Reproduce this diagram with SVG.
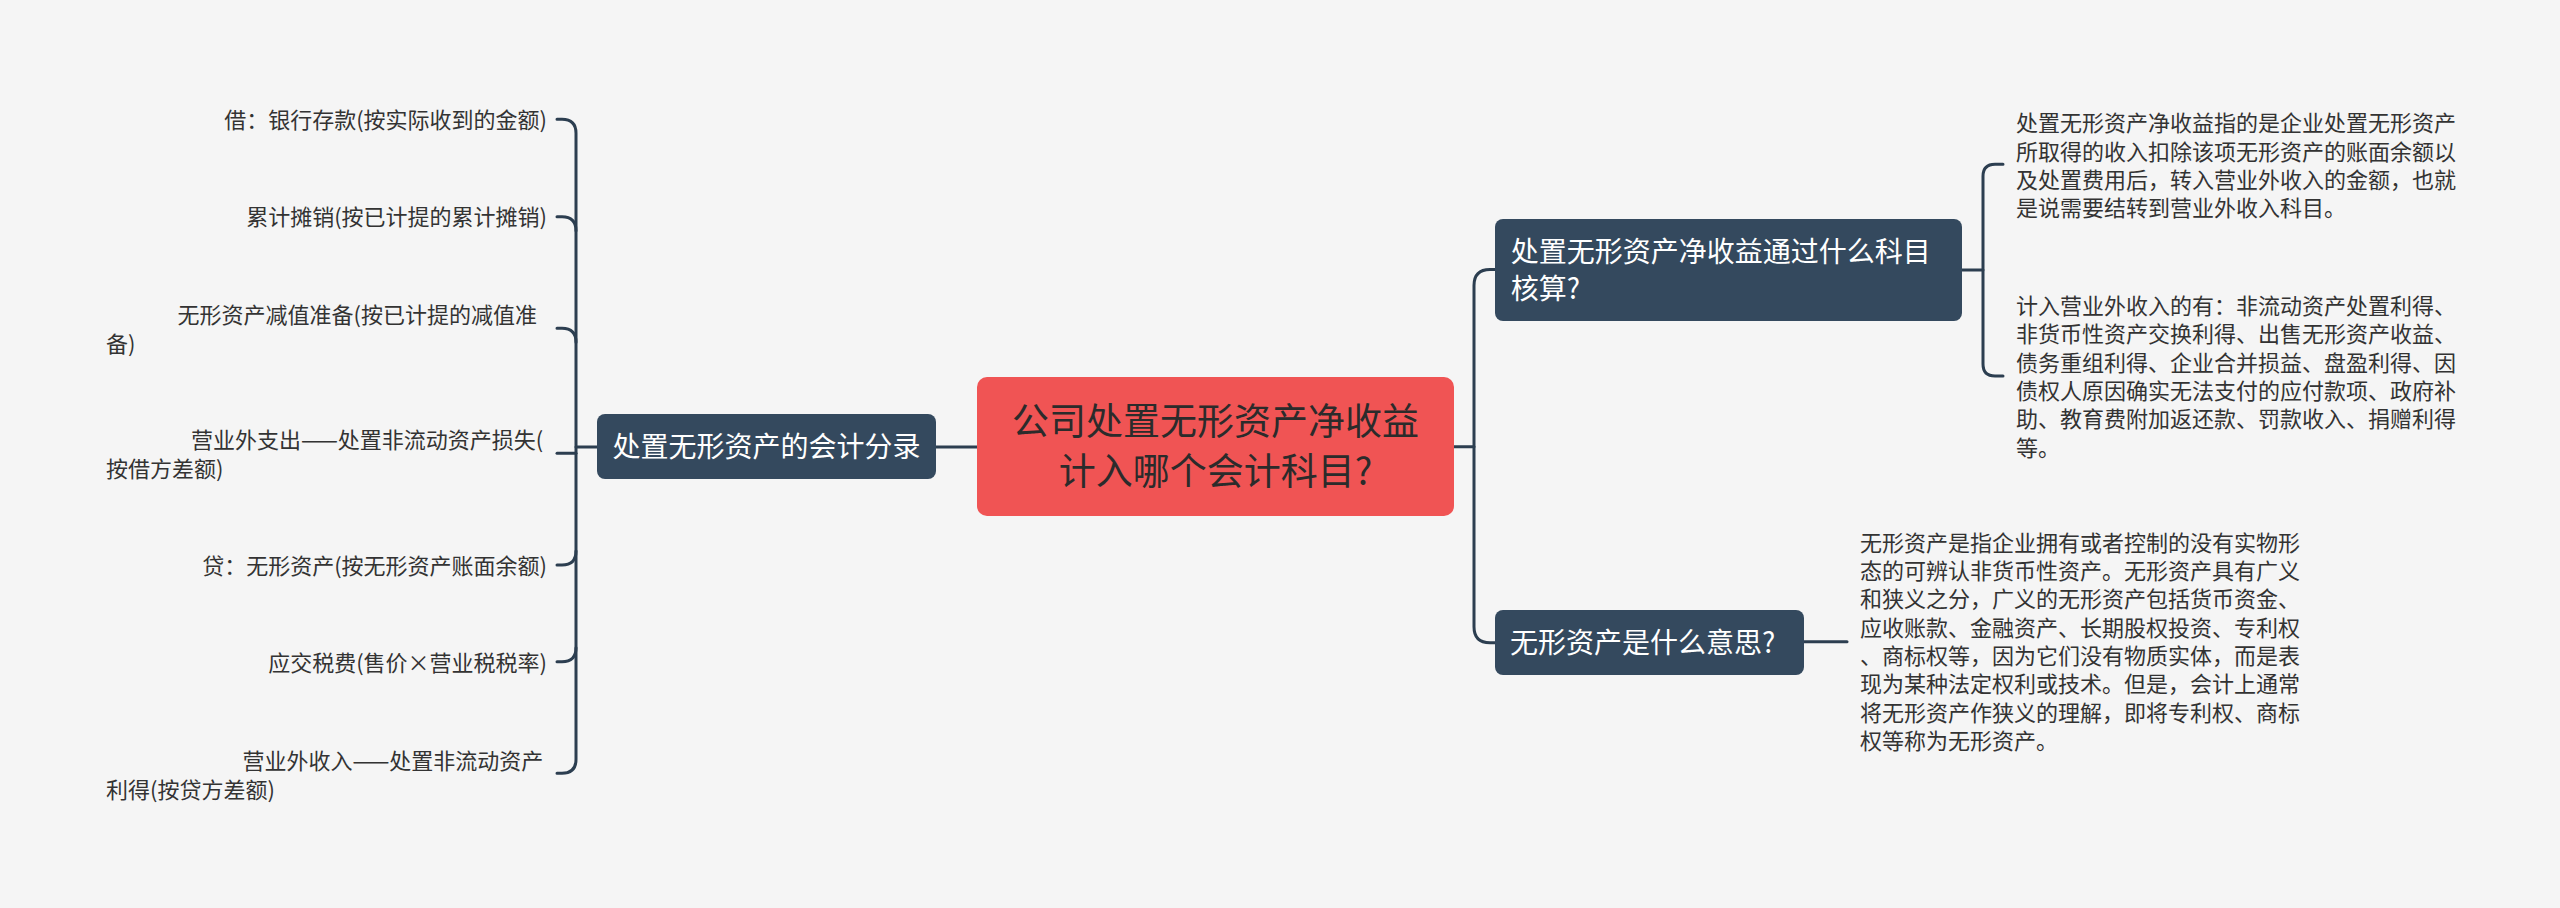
<svg xmlns="http://www.w3.org/2000/svg" width="2560" height="908" viewBox="0 0 2560 908">
<style>
.t{font-family:"Noto Sans CJK SC","Noto Sans",sans-serif;}
.leaf{font-size:22px;fill:#333333;}
.end{text-anchor:end;}
.node{fill:#34495E;}
.nt{font-size:28px;fill:#FFFFFF;}
.ln{fill:none;stroke:#2C3E50;stroke-width:3;stroke-linecap:round;}
</style>
<rect x="0" y="0" width="2560" height="908" fill="#F5F5F5"/>
<g id="connectors">
<path class="ln" d="M936 447 H977"/>
<path class="ln" d="M576 447 H597"/>
<path class="ln" d="M557 119.3 H562 Q576 119.3 576 133.3 V759.3 Q576 773.3 562 773.3 H557"/>
<path class="ln" d="M557 216.7 H562 Q576 216.7 576 230.7"/>
<path class="ln" d="M557 328.3 H562 Q576 328.3 576 342.3"/>
<path class="ln" d="M557 453.3 H576"/>
<path class="ln" d="M557 565 H562 Q576 565 576 551"/>
<path class="ln" d="M557 661.7 H562 Q576 661.7 576 647.7"/>
<path class="ln" d="M1454 446.7 H1474"/>
<path class="ln" d="M1495 269.5 H1490 Q1474 269.5 1474 285.5 V626.7 Q1474 642.7 1490 642.7 H1495"/>
<path class="ln" d="M1962 270 H1983"/>
<path class="ln" d="M2003 164.3 H1995 Q1983 164.3 1983 176.3 V364 Q1983 376 1995 376 H2003"/>
<path class="ln" d="M1804 641.7 H1847"/>
</g>
<g id="center">
<rect x="977" y="377" width="477" height="139" rx="10" fill="#F05454"/>
<text class="t" x="1215.5" y="434.5" font-size="37" fill="#2B2B2B" text-anchor="middle">公司处置无形资产净收益</text>
<text class="t" x="1215.5" y="484.5" font-size="37" fill="#2B2B2B" text-anchor="middle">计入哪个会计科目?</text>
</g>
<g id="left-node">
<rect class="node" x="597" y="414" width="339" height="65" rx="8"/>
<text class="t nt" x="766.5" y="456.5" text-anchor="middle">处置无形资产的会计分录</text>
</g>
<g id="leaf1"><text class="t leaf end" x="547" y="128">借：银行存款(按实际收到的金额)</text></g>
<g id="leaf2"><text class="t leaf end" x="547" y="224.7">累计摊销(按已计提的累计摊销)</text></g>
<g id="leaf3">
<text class="t leaf end" x="537" y="323">无形资产减值准备(按已计提的减值准</text>
<text class="t leaf" x="106" y="352">备)</text>
</g>
<g id="leaf4">
<text class="t leaf end" x="543.3" y="448">营业外支出——处置非流动资产损失(</text>
<text class="t leaf" x="106" y="477">按借方差额)</text>
</g>
<g id="leaf5"><text class="t leaf end" x="547" y="574">贷：无形资产(按无形资产账面余额)</text></g>
<g id="leaf6"><text class="t leaf end" x="547" y="671">应交税费(售价×营业税税率)</text></g>
<g id="leaf7">
<text class="t leaf end" x="543.3" y="769">营业外收入——处置非流动资产</text>
<text class="t leaf" x="106" y="797.5">利得(按贷方差额)</text>
</g>
<g id="right-node1">
<rect class="node" x="1495" y="219" width="467" height="102" rx="8"/>
<text class="t nt" x="1510.7" y="261.5">处置无形资产净收益通过什么科目</text>
<text class="t nt" x="1510.7" y="298.5">核算?</text>
</g>
<g id="text1" class="t leaf">
<text x="2016" y="131.3">处置无形资产净收益指的是企业处置无形资产</text>
<text x="2016" y="159.7">所取得的收入扣除该项无形资产的账面余额以</text>
<text x="2016" y="188">及处置费用后，转入营业外收入的金额，也就</text>
<text x="2016" y="216.3">是说需要结转到营业外收入科目。</text>
</g>
<g id="text2" class="t leaf">
<text x="2016" y="314">计入营业外收入的有：非流动资产处置利得、</text>
<text x="2016" y="342.3">非货币性资产交换利得、出售无形资产收益、</text>
<text x="2016" y="370.7">债务重组利得、企业合并损益、盘盈利得、因</text>
<text x="2016" y="399">债权人原因确实无法支付的应付款项、政府补</text>
<text x="2016" y="427.3">助、教育费附加返还款、罚款收入、捐赠利得</text>
<text x="2016" y="455.7">等。</text>
</g>
<g id="right-node2">
<rect class="node" x="1495" y="610" width="309" height="65" rx="8"/>
<text class="t nt" x="1510" y="652.5">无形资产是什么意思?</text>
</g>
<g id="text3" class="t leaf">
<text x="1860" y="550.5">无形资产是指企业拥有或者控制的没有实物形</text>
<text x="1860" y="578.8">态的可辨认非货币性资产。无形资产具有广义</text>
<text x="1860" y="607.2">和狭义之分，广义的无形资产包括货币资金、</text>
<text x="1860" y="635.5">应收账款、金融资产、长期股权投资、专利权</text>
<text x="1860" y="663.8">、商标权等，因为它们没有物质实体，而是表</text>
<text x="1860" y="692.2">现为某种法定权利或技术。但是，会计上通常</text>
<text x="1860" y="720.5">将无形资产作狭义的理解，即将专利权、商标</text>
<text x="1860" y="748.8">权等称为无形资产。</text>
</g>
</svg>
